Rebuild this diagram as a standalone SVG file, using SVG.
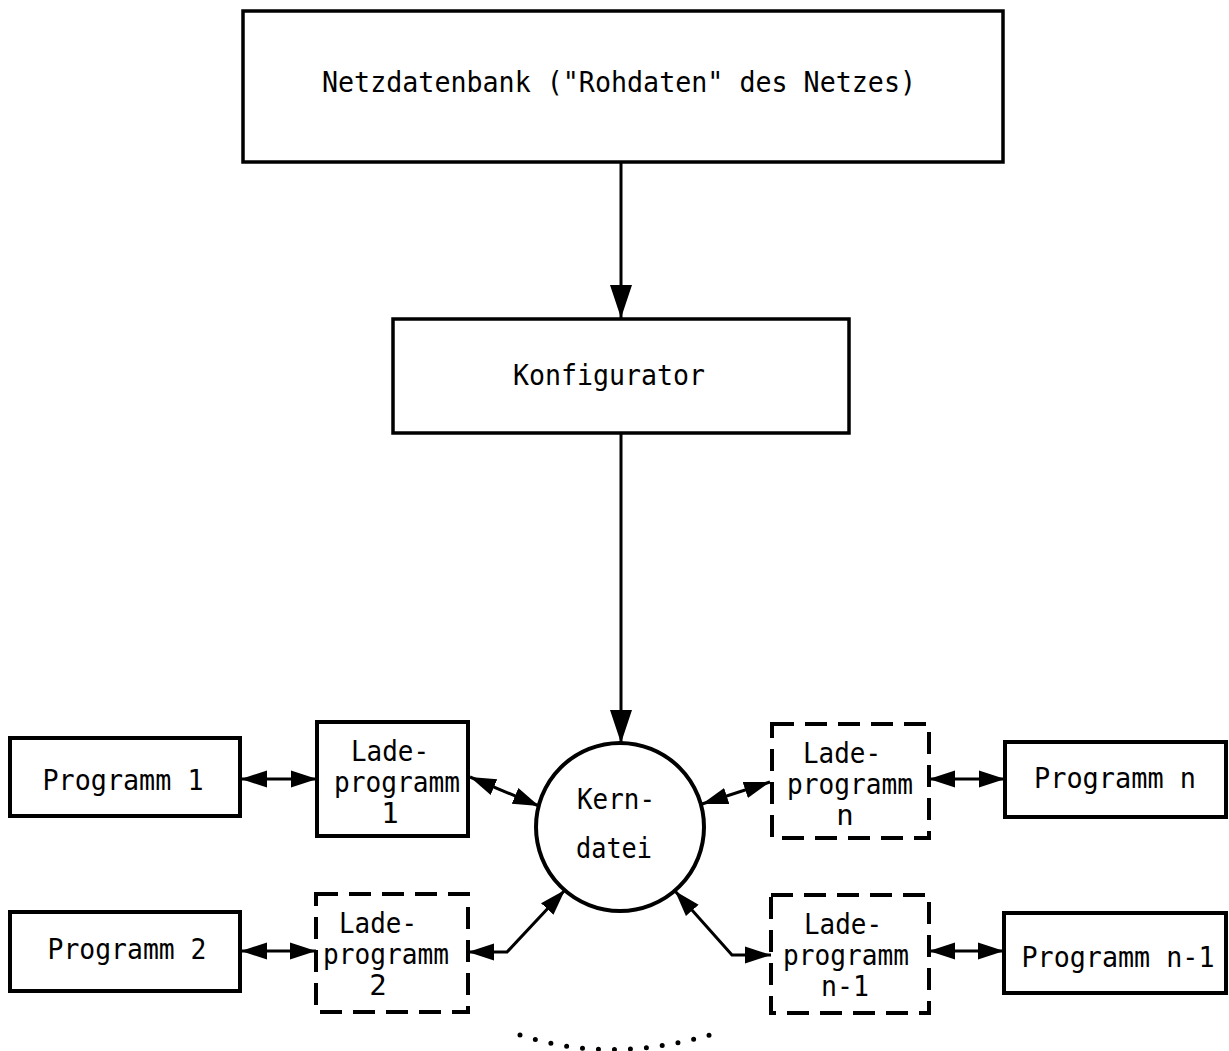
<svg xmlns="http://www.w3.org/2000/svg" width="1229" height="1051" viewBox="0 0 1229 1051">
  <style>
    .box { fill: #fff; stroke: #000; stroke-width: 4; }
    .dash { fill: #fff; stroke: #000; stroke-width: 4; stroke-dasharray: 22 11; }
    .conn { fill: none; stroke: #000; stroke-width: 3; }
    .t { font-family: "DejaVu Sans Mono", "Liberation Mono", monospace; font-size: 29px; fill: #000; text-anchor: middle; }
    .dots { fill: none; stroke: #000; stroke-width: 5; stroke-linecap: round; stroke-dasharray: 0 16; }
  </style>
  <defs>
    <marker id="big" markerUnits="userSpaceOnUse" markerWidth="36" markerHeight="24" viewBox="0 0 36 24" refX="33" refY="12" orient="auto">
      <path d="M0,1 L0,23 L33,12 Z" fill="#000"/>
    </marker>
    <marker id="sm" markerUnits="userSpaceOnUse" markerWidth="28" markerHeight="20" viewBox="0 0 28 20" refX="26" refY="10" orient="auto-start-reverse">
      <path d="M0,1.5 L0,18.5 L26,10 Z" fill="#000"/>
    </marker>
  </defs>
  <rect width="1229" height="1051" fill="#fff"/>

  <g id="connectors">
    <path class="conn" d="M621,163 L621,318" marker-end="url(#big)"/>
    <path class="conn" d="M621,433 L621,743" marker-end="url(#big)"/>
    <path class="conn" d="M241,779 L317,779" marker-start="url(#sm)" marker-end="url(#sm)"/>
    <path class="conn" d="M470,777 L539,806" marker-start="url(#sm)" marker-end="url(#sm)"/>
    <path class="conn" d="M770,782 L702,804" marker-start="url(#sm)" marker-end="url(#sm)"/>
    <path class="conn" d="M929,779 L1005,779" marker-start="url(#sm)" marker-end="url(#sm)"/>
    <path class="conn" d="M241,951 L316,951" marker-start="url(#sm)" marker-end="url(#sm)"/>
    <path class="conn" d="M468,952 L507,952 L565,890" marker-start="url(#sm)" marker-end="url(#sm)"/>
    <path class="conn" d="M675,891 L732,955 L771,955" marker-start="url(#sm)" marker-end="url(#sm)"/>
    <path class="conn" d="M929,951 L1004,951" marker-start="url(#sm)" marker-end="url(#sm)"/>
    <path class="dots" d="M520,1035 Q614,1066 723,1031"/>
  </g>

  <g id="netzdatenbank">
    <rect class="box" x="243" y="11" width="760" height="151" style="stroke-width:3.5"/>
    <text class="t" x="619" y="92" textLength="594" lengthAdjust="spacingAndGlyphs">Netzdatenbank ("Rohdaten" des Netzes)</text>
  </g>

  <g id="konfigurator">
    <rect class="box" x="393" y="319" width="456" height="114" style="stroke-width:3.5"/>
    <text class="t" x="609" y="385" textLength="192" lengthAdjust="spacingAndGlyphs">Konfigurator</text>
  </g>

  <g id="kerndatei">
    <circle class="box" cx="620" cy="827" r="84"/>
    <text class="t" x="616" y="809" textLength="78" lengthAdjust="spacingAndGlyphs">Kern-</text>
    <text class="t" x="614" y="858" textLength="76" lengthAdjust="spacingAndGlyphs">datei</text>
  </g>

  <g id="programm1">
    <rect class="box" x="10" y="738" width="230" height="78"/>
    <text class="t" x="123" y="790" textLength="161" lengthAdjust="spacingAndGlyphs">Programm 1</text>
  </g>

  <g id="ladeprogramm1">
    <rect class="box" x="317" y="722" width="151" height="114"/>
    <text class="t" x="390" y="761" textLength="78" lengthAdjust="spacingAndGlyphs">Lade-</text>
    <text class="t" x="397" y="792" textLength="126" lengthAdjust="spacingAndGlyphs">programm</text>
    <text class="t" x="390" y="823">1</text>
  </g>

  <g id="ladeprogrammn">
    <rect class="dash" x="772" y="724" width="157" height="114"/>
    <text class="t" x="842" y="763" textLength="78" lengthAdjust="spacingAndGlyphs">Lade-</text>
    <text class="t" x="850" y="794" textLength="126" lengthAdjust="spacingAndGlyphs">programm</text>
    <text class="t" x="845" y="825">n</text>
  </g>

  <g id="programmn">
    <rect class="box" x="1005" y="742" width="221" height="75"/>
    <text class="t" x="1115" y="788" textLength="162" lengthAdjust="spacingAndGlyphs">Programm n</text>
  </g>

  <g id="programm2">
    <rect class="box" x="10" y="912" width="230" height="79"/>
    <text class="t" x="127" y="959" textLength="159" lengthAdjust="spacingAndGlyphs">Programm 2</text>
  </g>

  <g id="ladeprogramm2">
    <rect class="dash" x="316" y="894" width="152" height="118"/>
    <text class="t" x="378" y="933" textLength="78" lengthAdjust="spacingAndGlyphs">Lade-</text>
    <text class="t" x="386" y="964" textLength="126" lengthAdjust="spacingAndGlyphs">programm</text>
    <text class="t" x="378" y="995">2</text>
  </g>

  <g id="ladeprogrammn1">
    <rect class="dash" x="771" y="895" width="158" height="118"/>
    <text class="t" x="843" y="934" textLength="78" lengthAdjust="spacingAndGlyphs">Lade-</text>
    <text class="t" x="846" y="965" textLength="126" lengthAdjust="spacingAndGlyphs">programm</text>
    <text class="t" x="845" y="996" textLength="48" lengthAdjust="spacingAndGlyphs">n-1</text>
  </g>

  <g id="programmn1">
    <rect class="box" x="1004" y="913" width="222" height="80"/>
    <text class="t" x="1118" y="967" textLength="193" lengthAdjust="spacingAndGlyphs">Programm n-1</text>
  </g>
</svg>
